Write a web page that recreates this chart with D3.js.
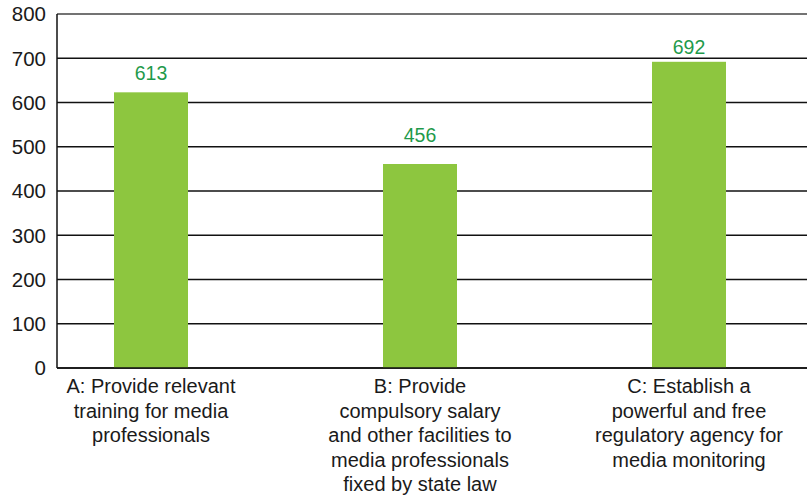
<!DOCTYPE html>
<html><head><meta charset="utf-8">
<script src="https://cdn.jsdelivr.net/npm/d3@7"></script>
<style>body{margin:0;background:#fff}svg{display:block}text{font-family:"Liberation Sans",Arial,Helvetica,sans-serif}</style>
</head><body>
<svg id="c" width="807" height="500"></svg>
<script>
const categories = ["A", "B", "C"];
const categoryLabels = [
  ["A: Provide relevant", "training for media", "professionals"],
  ["B: Provide", "compulsory salary", "and other facilities to", "media professionals", "fixed by state law"],
  ["C: Establish a", "powerful and free", "regulatory agency for", "media monitoring"]
];
const barHeights = [623, 461, 692];
const valueLabels = ["613", "456", "692"];
// level (in axis units) at which each value label's baseline sits
const valueLabelLevels = [651, 511, 710];
const yTicks = [0, 100, 200, 300, 400, 500, 600, 700, 800];

const svg = d3.select("#c");
const y = d3.scaleLinear().domain([0, 800]).range([368, 14]);
const x = d3.scalePoint().domain(categories).range([151, 689]);
const barW = 74;
const left = 57, right = 807;

// gridlines
svg.append("g").selectAll("line").data(yTicks).join("line")
  .attr("x1", left).attr("x2", right)
  .attr("y1", d => y(d)).attr("y2", d => y(d))
  .attr("stroke", d => d === 800 ? "#444" : "#111").attr("stroke-width", 1.5);

// bars
svg.append("g").selectAll("rect").data(categories).join("rect")
  .attr("x", d => x(d) - barW / 2).attr("width", barW)
  .attr("y", (d, i) => y(barHeights[i]))
  .attr("height", (d, i) => y(0) - y(barHeights[i]))
  .attr("fill", "#8dc63f");

// baseline and y axis line
svg.append("line").attr("x1", left).attr("x2", right).attr("y1", y(0)).attr("y2", y(0)).attr("stroke", "#111").attr("stroke-width", 1.5);
svg.append("line").attr("x1", left).attr("x2", left).attr("y1", y(800)).attr("y2", y(0)).attr("stroke", "#111").attr("stroke-width", 1.5);

// y tick labels
svg.append("g").selectAll("text").data(yTicks).join("text")
  .attr("x", 46).attr("y", d => y(d)).attr("dy", "0.36em")
  .attr("text-anchor", "end").attr("font-size", 20.5).attr("fill", "#1a1a1a")
  .text(d => d);

// value labels
svg.append("g").selectAll("text").data(categories).join("text")
  .attr("x", d => x(d)).attr("y", (d, i) => y(valueLabelLevels[i]))
  .attr("text-anchor", "middle").attr("font-size", 19.5).attr("fill", "#1f9a4b")
  .text((d, i) => valueLabels[i]);

// category labels
const cg = svg.append("g").selectAll("text").data(categories).join("text")
  .attr("x", d => x(d)).attr("y", 393)
  .attr("text-anchor", "middle").attr("font-size", 20).attr("fill", "#1a1a1a");
cg.selectAll("tspan").data((d, i) => categoryLabels[i]).join("tspan")
  .attr("x", function() { return this.parentNode.getAttribute("x"); })
  .attr("dy", (d, j) => j === 0 ? 0 : 24.5)
  .text(d => d);
</script>
</body></html>
